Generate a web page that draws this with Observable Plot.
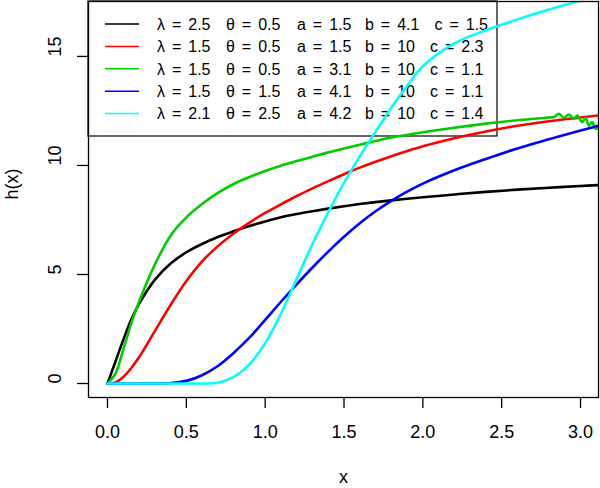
<!DOCTYPE html>
<html><head><meta charset="utf-8">
<script src="https://cdn.jsdelivr.net/npm/d3@7"></script>
<script src="https://cdn.jsdelivr.net/npm/@observablehq/plot@0.6"></script>
<style>
body{margin:0;background:#fff}
#chart{width:600px;height:488px}
</style>
</head><body><div id="chart"></div>
<script>
// x grid shared by the smooth curves
const xGrid = [0,0.05,0.1,0.15,0.2,0.3,0.4,0.5,0.6,0.7,0.8,0.9,1.0,1.1,1.2,1.3,1.4,1.5,1.6,1.7,1.8,1.9,2.0,2.2,2.4,2.6,2.8,3.0,3.12];
const hBlack = [0,1.0,2.0,2.92,3.65,4.75,5.5,6.02,6.4,6.72,6.98,7.22,7.43,7.62,7.77,7.9,8.02,8.13,8.23,8.32,8.4,8.47,8.54,8.67,8.79,8.89,8.98,9.06,9.1];
const hRed   = [0,0.05,0.3,0.7,1.2,2.4,3.6,4.7,5.6,6.3,6.88,7.38,7.82,8.22,8.6,8.95,9.28,9.6,9.9,10.17,10.42,10.66,10.88,11.25,11.56,11.82,12.03,12.2,12.3];
const hGreen = [0,0.45,1.55,2.75,3.75,5.45,6.78,7.62,8.23,8.74,9.15,9.47,9.75,9.99,10.2,10.4,10.6,10.78,10.95,11.12,11.28,11.4,11.52,11.73,11.92,12.07,12.2];
const hBlue  = [0,0,0,0,0,0,0.02,0.12,0.38,0.8,1.4,2.1,2.92,3.75,4.55,5.32,6.05,6.73,7.35,7.9,8.38,8.8,9.17,9.78,10.3,10.78,11.2,11.6,11.83];
const hCyan  = [0,0,0,0,0,0,0,0,0,0.03,0.3,0.88,1.85,3.2,4.8,6.4,7.85,9.2,10.42,11.55,12.65,13.65,14.55,15.6,16.2,16.7,17.15,17.55,17.75];
// noisy numerical tail of the green curve
const greenTailX = [2.831,2.863,2.894,2.926,2.958,2.979,3.011,3.032,3.053,3.074,3.095,3.126];
const greenTailY = [12.22,12.37,12.19,12.34,12.13,12.29,11.99,12.19,11.83,11.99,11.68,11.83];

const seriesNames = ["s1","s2","s3","s4","s5"];
const colors = ["#000000","#FF0000","#00CD00","#0000FF","#00FFFF"];
const lambdas = ["2.5","1.5","1.5","1.5","2.1"];
const thetas  = ["0.5","0.5","0.5","1.5","2.5"];
const aVals   = ["1.5","1.5","3.1","4.1","4.2"];
const bVals   = ["4.1","10","10","10","10"];
const cVals   = ["1.5","2.3","1.1","1.1","1.4"];

const xTicks = [0,0.5,1,1.5,2,2.5,3];
const xTickLabels = ["0.0","0.5","1.0","1.5","2.0","2.5","3.0"];
const yTicks = [0,5,10,15];
const yTickLabels = ["0","5","10","15"];

const FONT = "'Liberation Sans', Arial, Helvetica, sans-serif";

// build the line table
const rows = [];
const ys = [hBlack, hRed, hGreen, hBlue, hCyan];
ys.forEach((arr, i) => {
  arr.forEach((v, j) => rows.push({series: seriesNames[i], x: xGrid[j], y: v}));
  if (i === 2) {
    greenTailX.forEach((x, j) => rows.push({series: seriesNames[i], x, y: greenTailY[j]}));
  }
});

// legend drawn as a render function (behind the curves)
function legendMark(index, scales, values, dims) {
  const g = d3.create("svg:g")
    .style("font-family", FONT).style("font-size", "16px").style("text-anchor", "start")
    .style("word-spacing", "2.5px");
  const x0 = dims.marginLeft, y0 = dims.marginTop;
  g.append("rect").attr("x", x0).attr("y", y0).attr("width", 409).attr("height", 135)
    .attr("fill", "none").attr("stroke", "#000").attr("stroke-width", 1.2);
  const cvs = document.createElement("canvas").getContext("2d");
  cvs.font = "16px " + FONT;
  const w = s => cvs.measureText(s).width;
  seriesNames.forEach((s, i) => {
    const yy = y0 + 23 + i * 22.4;
    g.append("line").attr("x1", x0 + 17).attr("x2", x0 + 51).attr("y1", yy).attr("y2", yy)
      .attr("stroke", colors[i]).attr("stroke-width", 1.5);
    const fields = [["λ", lambdas[i], 69], ["θ", thetas[i], 138], ["a", aVals[i], 209], ["b", bVals[i], 277]];
    fields.forEach(([k, v, dx]) => {
      g.append("text").attr("x", x0 + dx).attr("y", yy).attr("dy", "0.36em")
        .attr("fill", "#000").style("white-space", "pre").text(k + " = " + v);
    });
    const cx = x0 + 342 + (w("b = " + bVals[i]) - w("b = 10"));
    g.append("text").attr("x", cx).attr("y", yy).attr("dy", "0.36em")
      .attr("fill", "#000").style("white-space", "pre").text("c = " + cVals[i]);
  });
  return g.node();
}

const chart = Plot.plot({
  width: 600,
  height: 488,
  marginLeft: 88,
  marginRight: 2,
  marginTop: 1,
  marginBottom: 91,
  style: {fontFamily: FONT, fontSize: "18px", background: "white", color: "black"},
  x: {domain: [-0.1205, 3.114]},
  y: {domain: [-0.642, 17.52]},
  color: {domain: seriesNames, range: colors},
  marks: [
    legendMark,
    Plot.line(rows, {x: "x", y: "y", z: "series", stroke: "series", strokeWidth: 2.6, curve: "catmull-rom", clip: true}),
    Plot.frame({stroke: "#000", strokeWidth: 1.3}),
    Plot.axisX({ticks: xTicks, tickSize: 11, tickFormat: () => "", label: null, strokeWidth: 1.3}),
    Plot.axisY({ticks: yTicks, tickSize: 11, tickFormat: () => "", label: null, strokeWidth: 1.3}),
    Plot.text(xTicks, {x: d => d, text: (d, i) => xTickLabels[i], frameAnchor: "bottom", dy: 35, lineAnchor: "middle", fontSize: 18}),
    Plot.text(yTicks, {y: d => d, text: (d, i) => yTickLabels[i], frameAnchor: "left", dx: -33, rotate: -90, lineAnchor: "middle", fontSize: 18}),
    Plot.text(["x"], {frameAnchor: "bottom", dy: 80, lineAnchor: "middle", fontSize: 18}),
    Plot.text(["h(x)"], {frameAnchor: "left", dx: -76, rotate: -90, lineAnchor: "middle", fontSize: 18})
  ]
});
document.getElementById("chart").appendChild(chart);
</script>
</body></html>
